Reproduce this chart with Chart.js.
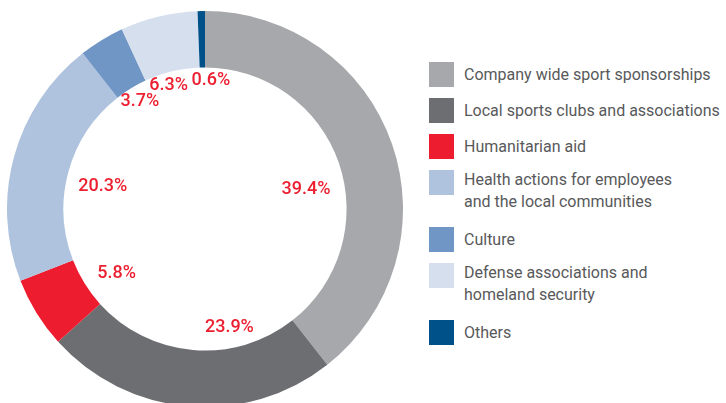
<!DOCTYPE html>
<html>
<head>
<meta charset="utf-8">
<script src="https://cdn.jsdelivr.net/npm/chart.js@4/dist/chart.umd.min.js"></script>
<style>
  html, body { margin: 0; padding: 0; width: 726px; height: 403px; overflow: hidden; background: #ffffff; }
  #wrap { position: absolute; left: 7px; top: 11px; width: 396px; height: 396px; }
  #legend { position: absolute; left: 429px; top: 62px; font-family: Roboto, "Noto Sans", sans-serif; font-size: 16px; color: #58595b; }
  .item { display: flex; align-items: flex-start; margin-bottom: 11px; }
  .box { width: 25px; height: 25px; flex: 0 0 25px; margin-right: 10px; }
  .txt { line-height: 22px; margin-top: 2px; white-space: nowrap; }
  .txt.multi { margin-top: -1px; margin-bottom: 3px; }
</style>
</head>
<body>
<div id="wrap"><canvas id="c"></canvas></div>
<div id="legend"></div>
<script>
const categories = [
  ["Company wide sport sponsorships"],
  ["Local sports clubs and associations"],
  ["Humanitarian aid"],
  ["Health actions for employees", "and the local communities"],
  ["Culture"],
  ["Defense associations and", "homeland security"],
  ["Others"]
];
const shares = [39.4, 23.9, 5.8, 20.3, 3.7, 6.3, 0.6];
const valueLabels = ["39.4%", "23.9%", "5.8%", "20.3%", "3.7%", "6.3%", "0.6%"];

const sliceColors = ["#a7a8ab", "#6d6e72", "#ed1c2e", "#afc3de", "#7096c6", "#d5dfee", "#00518a"];
const labelNudges = [[-6, 18], [34, 6], [8, 5], [7, 7], [-6, -11], [-10, -13], [8, -15]];

const legend = document.getElementById("legend");
categories.forEach((lines, i) => {
  const item = document.createElement("div");
  item.className = "item";
  const box = document.createElement("div");
  box.className = "box";
  box.style.background = sliceColors[i];
  const txt = document.createElement("div");
  txt.className = lines.length > 1 ? "txt multi" : "txt";
  txt.innerHTML = lines.join("<br>");
  item.appendChild(box);
  item.appendChild(txt);
  legend.appendChild(item);
});

const sliceLabels = {
  id: "sliceLabels",
  afterDatasetsDraw(chart) {
    const ctx = chart.ctx;
    const meta = chart.getDatasetMeta(0);
    ctx.save();
    ctx.fillStyle = "#ec1f30";
    ctx.font = "500 18px Roboto, 'Noto Sans', sans-serif";
    ctx.textAlign = "center";
    ctx.textBaseline = "middle";
    meta.data.forEach((arc, i) => {
      const p = arc.getProps(["x", "y", "startAngle", "endAngle", "innerRadius"], true);
      const mid = (p.startAngle + p.endAngle) / 2;
      const r = p.innerRadius * 0.8;
      const x = p.x + Math.cos(mid) * r + labelNudges[i][0];
      const y = p.y + Math.sin(mid) * r + labelNudges[i][1];
      ctx.fillText(valueLabels[i], x, y);
    });
    ctx.restore();
  }
};

new Chart(document.getElementById("c"), {
  type: "doughnut",
  data: {
    labels: categories.map(l => l.join(" ")),
    datasets: [{
      data: shares,
      backgroundColor: sliceColors,
      borderWidth: 0,
      hoverOffset: 0
    }]
  },
  options: {
    responsive: true,
    maintainAspectRatio: false,
    animation: false,
    cutout: "71.5%",
    rotation: 0,
    layout: { padding: 0 },
    plugins: {
      legend: { display: false },
      tooltip: { enabled: false }
    }
  },
  plugins: [sliceLabels]
});
</script>
</body>
</html>
